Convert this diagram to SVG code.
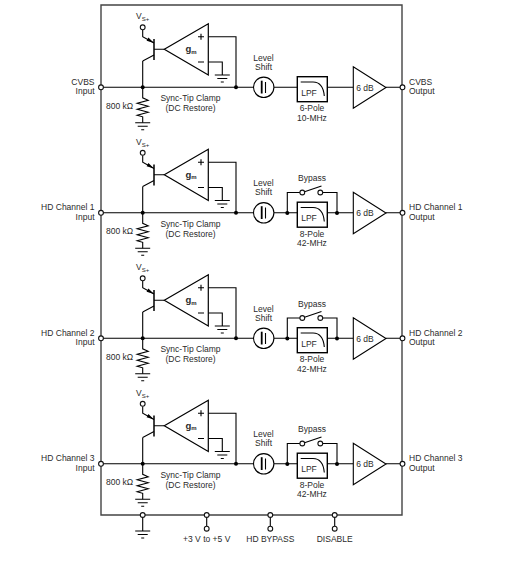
<svg xmlns="http://www.w3.org/2000/svg" width="532" height="561" viewBox="0 0 532 561">
<style>
text{font-family:"Liberation Sans",Arial,sans-serif;font-size:8.5px;fill:#2a2a2a}
.m{text-anchor:middle}.e{text-anchor:end}
.l{fill:none;stroke:#000;stroke-width:1.1}
.w{fill:none;stroke:#000;stroke-width:1.2}
.f{fill:#fff;stroke:#000;stroke-width:1.1}
.b{fill:none;stroke:#444;stroke-width:1.4}
.o{fill:#fff;stroke:#111;stroke-width:1.1}
.d{fill:#000}
</style>
<defs>
<g id="gnd" class="l"><path d="M-7.5 0H7.5M-5 3.5H5M-1.5 7H1.5"/></g>
<g id="pin"><circle r="2.4" class="o"/></g>
<g id="dot"><circle r="2" class="d"/></g>
<g id="amp"><path class="w" d="M164.3 49.3L208.3 23.7V75Z"/><path class="l" d="M198 36.7H204M201 33.7V39.7M198 62H204"/><text x="185.5" y="52" style="font-weight:bold;font-size:9.5px">g<tspan dy="1.5" style="font-size:6px">m</tspan></text></g>
<g id="npn"><path class="w" style="stroke-width:1.5" d="M154 39V60"/><path class="l" d="M154 49.3H164.3M142.7 61L154 55M142.7 30V36.7L154 43"/><path class="d" d="M154 43L146.6 40.8L148.4 37.5Z"/></g>
<g id="res"><path class="l" d="M0 0V10.5L5.5 13L-5.5 16L5.5 19L-5.5 22L5.5 25L-5.5 28L0 29.5V35.5"/></g>
<g id="shift"><circle cx="263.7" cy="87.3" r="10.2" class="f"/><path class="l" style="stroke-width:1.8" d="M261.7 80.7V93.5"/><path class="l" d="M265.5 82V93"/></g>
<g id="lpf"><rect x="297.3" y="76.7" width="30" height="25" class="f" style="stroke-width:1.4"/><path class="l" d="M300.7 82H313C320 82 323.5 87 324.3 96"/><text class="m" x="309" y="95.5">LPF</text></g>
<g id="gain"><path class="f" d="M353.3 66.7V108.3L386 87.5Z"/><text class="m" x="365" y="90.5">6 dB</text></g>
<g id="sw"><path class="l" d="M287.3 87.5V67H300M322.5 67H337V87.5M302.3 67L321.5 60.5"/><use href="#pin" x="302.3" y="67"/><use href="#pin" x="320.3" y="67"/><use href="#dot" x="287.3" y="87.5"/><use href="#dot" x="337" y="87.5"/></g>
</defs>

<g id="connectors">
<path class="b" d="M101 5H402V515H101Z"/>
<path class="l" d="M101 87.3H253.5M274 87.3H297.3M327.3 87.3H353.3M386 87.3H402"/>
<path class="l" d="M208.3 36.7H236V87.3M208.3 62H222.3V75M142.7 61V87.3"/>
<path class="l" d="M101 212.8H253.5M274 212.8H297.3M327.3 212.8H353.3M386 212.8H402"/>
<path class="l" d="M208.3 162.2H236V212.8M208.3 187.5H222.3V200.5M142.7 186.5V212.8"/>
<path class="l" d="M101 338.3H253.5M274 338.3H297.3M327.3 338.3H353.3M386 338.3H402"/>
<path class="l" d="M208.3 287.7H236V338.3M208.3 313H222.3V326M142.7 312V338.3"/>
<path class="l" d="M101 463.8H253.5M274 463.8H297.3M327.3 463.8H353.3M386 463.8H402"/>
<path class="l" d="M208.3 413.2H236V463.8M208.3 438.5H222.3V451.5M142.7 437.5V463.8"/>
<path class="l" d="M142.7 515V531M206.7 515V526M270.3 515V526M334.7 515V526"/>
</g>

<g id="ch1"><use href="#npn"/><use href="#amp"/><use href="#gnd" x="222.3" y="75"/><use href="#pin" x="142.7" y="27.3"/><use href="#res" x="142.7" y="87.3"/><use href="#gnd" x="142.7" y="122.8"/><use href="#dot" x="142.7" y="87.3"/><use href="#dot" x="236" y="87.3"/><use href="#shift"/><use href="#lpf"/><use href="#gain"/>
<text x="136" y="19">V<tspan dy="2" style="font-size:6px">S+</tspan></text><text class="e" x="94.5" y="84.7">CVBS</text><text class="e" x="94.5" y="94">Input</text><text x="106" y="108.7">800 kΩ</text><text class="m" x="190.5" y="101">Sync-Tip Clamp</text><text class="m" x="190.5" y="111">(DC Restore)</text><text class="m" x="263.5" y="60.5">Level</text><text class="m" x="263.5" y="69.7">Shift</text><text class="m" x="312" y="110.7">6-Pole</text><text class="m" x="312" y="120.5">10-MHz</text><text x="409" y="84.7">CVBS</text><text x="409" y="94">Output</text><use href="#pin" x="101" y="87.3"/><use href="#pin" x="402.5" y="87.3"/></g>

<g id="ch2" transform="translate(0 125.5)"><use href="#npn"/><use href="#amp"/><use href="#gnd" x="222.3" y="75"/><use href="#pin" x="142.7" y="27.3"/><use href="#res" x="142.7" y="87.3"/><use href="#gnd" x="142.7" y="122.8"/><use href="#dot" x="142.7" y="87.3"/><use href="#dot" x="236" y="87.3"/><use href="#shift"/><use href="#sw"/><use href="#lpf"/><use href="#gain"/>
<text x="136" y="19">V<tspan dy="2" style="font-size:6px">S+</tspan></text><text class="e" x="94.5" y="84.7">HD Channel 1</text><text class="e" x="94.5" y="94">Input</text><text x="106" y="108.7">800 kΩ</text><text class="m" x="190.5" y="101">Sync-Tip Clamp</text><text class="m" x="190.5" y="111">(DC Restore)</text><text class="m" x="263.5" y="60.5">Level</text><text class="m" x="263.5" y="69.7">Shift</text><text class="m" x="312" y="55.5">Bypass</text><text class="m" x="312" y="111">8-Pole</text><text class="m" x="312" y="120.5">42-MHz</text><text x="409" y="84.7">HD Channel 1</text><text x="409" y="94">Output</text><use href="#pin" x="101" y="87.3"/><use href="#pin" x="402.5" y="87.3"/></g>

<g id="ch3" transform="translate(0 251)"><use href="#npn"/><use href="#amp"/><use href="#gnd" x="222.3" y="75"/><use href="#pin" x="142.7" y="27.3"/><use href="#res" x="142.7" y="87.3"/><use href="#gnd" x="142.7" y="122.8"/><use href="#dot" x="142.7" y="87.3"/><use href="#dot" x="236" y="87.3"/><use href="#shift"/><use href="#sw"/><use href="#lpf"/><use href="#gain"/>
<text x="136" y="19">V<tspan dy="2" style="font-size:6px">S+</tspan></text><text class="e" x="94.5" y="84.7">HD Channel 2</text><text class="e" x="94.5" y="94">Input</text><text x="106" y="108.7">800 kΩ</text><text class="m" x="190.5" y="101">Sync-Tip Clamp</text><text class="m" x="190.5" y="111">(DC Restore)</text><text class="m" x="263.5" y="60.5">Level</text><text class="m" x="263.5" y="69.7">Shift</text><text class="m" x="312" y="55.5">Bypass</text><text class="m" x="312" y="111">8-Pole</text><text class="m" x="312" y="120.5">42-MHz</text><text x="409" y="84.7">HD Channel 2</text><text x="409" y="94">Output</text><use href="#pin" x="101" y="87.3"/><use href="#pin" x="402.5" y="87.3"/></g>

<g id="ch4" transform="translate(0 376.5)"><use href="#npn"/><use href="#amp"/><use href="#gnd" x="222.3" y="75"/><use href="#pin" x="142.7" y="27.3"/><use href="#res" x="142.7" y="87.3"/><use href="#gnd" x="142.7" y="122.8"/><use href="#dot" x="142.7" y="87.3"/><use href="#dot" x="236" y="87.3"/><use href="#shift"/><use href="#sw"/><use href="#lpf"/><use href="#gain"/>
<text x="136" y="19">V<tspan dy="2" style="font-size:6px">S+</tspan></text><text class="e" x="94.5" y="84.7">HD Channel 3</text><text class="e" x="94.5" y="94">Input</text><text x="106" y="108.7">800 kΩ</text><text class="m" x="190.5" y="101">Sync-Tip Clamp</text><text class="m" x="190.5" y="111">(DC Restore)</text><text class="m" x="263.5" y="60.5">Level</text><text class="m" x="263.5" y="69.7">Shift</text><text class="m" x="312" y="55.5">Bypass</text><text class="m" x="312" y="111">8-Pole</text><text class="m" x="312" y="120.5">42-MHz</text><text x="409" y="84.7">HD Channel 3</text><text x="409" y="94">Output</text><use href="#pin" x="101" y="87.3"/><use href="#pin" x="402.5" y="87.3"/></g>

<g id="pin-gnd"><use href="#pin" x="142.7" y="515"/><use href="#gnd" x="142.7" y="531"/></g>
<g id="pin-supply"><use href="#pin" x="206.7" y="515"/><use href="#pin" x="206.7" y="528.7"/><text class="m" x="206.7" y="541.7">+3 V to +5 V</text></g>
<g id="pin-bypass"><use href="#pin" x="270.3" y="515"/><use href="#pin" x="270.3" y="528.7"/><text class="m" x="270.3" y="541.7">HD BYPASS</text></g>
<g id="pin-disable"><use href="#pin" x="334.7" y="515"/><use href="#pin" x="334.7" y="528.7"/><text class="m" x="334.7" y="541.7">DISABLE</text></g>
</svg>
